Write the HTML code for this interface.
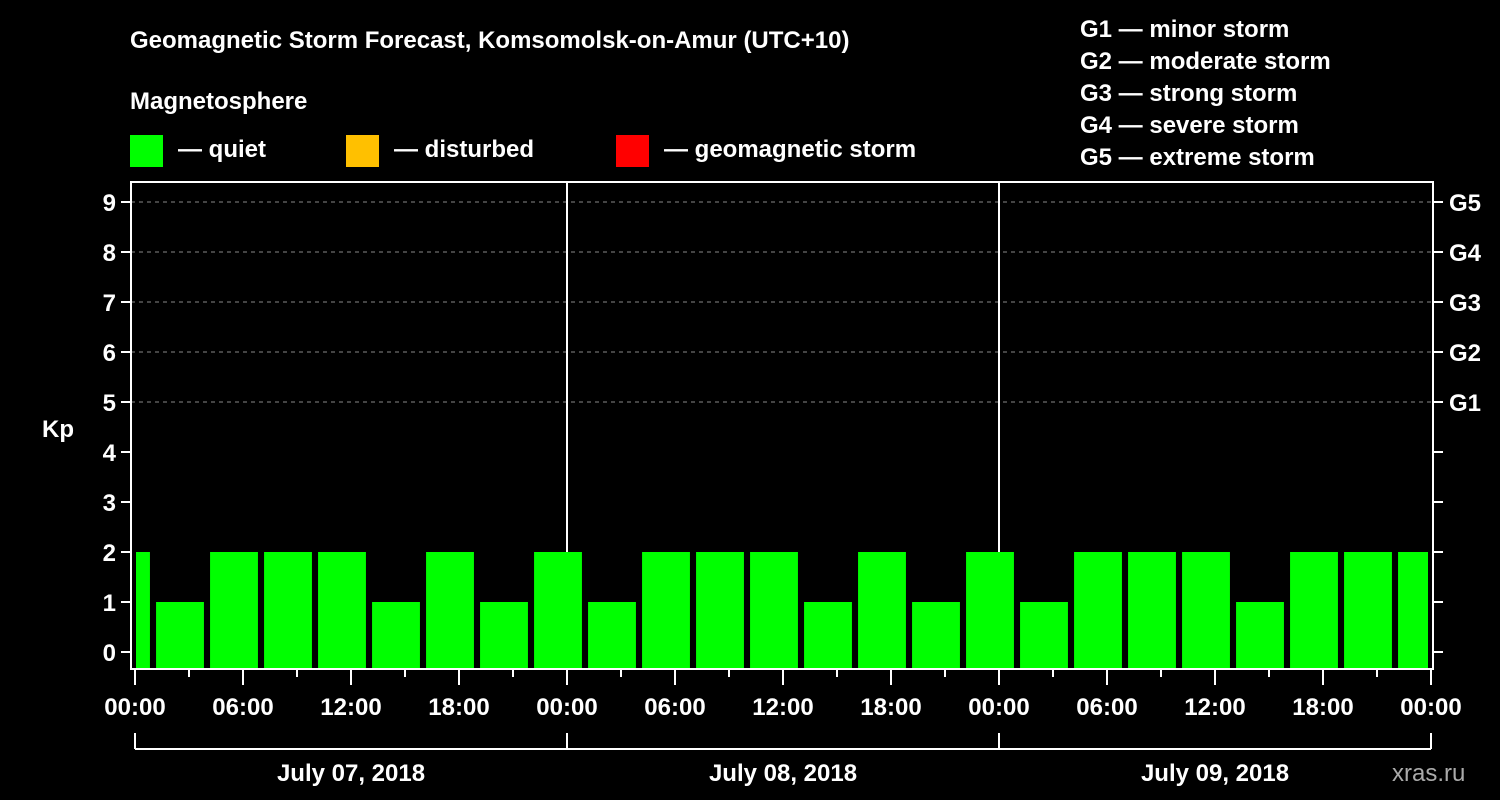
<!DOCTYPE html>
<html><head><meta charset="utf-8"><style>
html,body{margin:0;padding:0;background:#000;}
svg{display:block;font-family:"Liberation Sans",Arial,sans-serif;font-weight:bold;}
</style></head><body>
<svg id="chart" width="1500" height="800" viewBox="0 0 1500 800">
<rect width="1500" height="800" fill="#000"/>
<text x="130" y="48" fill="#fff" font-size="24">Geomagnetic Storm Forecast, Komsomolsk-on-Amur (UTC+10)</text>
<text x="130" y="109" fill="#fff" font-size="24">Magnetosphere</text>
<g><rect x="130" y="135" width="33" height="32" fill="#00ff00"/><text x="178" y="157" fill="#fff" font-size="24">— quiet</text></g>
<g><rect x="346" y="135" width="33" height="32" fill="#ffc000"/><text x="394" y="157" fill="#fff" font-size="24">— disturbed</text></g>
<g><rect x="616" y="135" width="33" height="32" fill="#ff0000"/><text x="664" y="157" fill="#fff" font-size="24">— geomagnetic storm</text></g>
<g fill="#fff" font-size="24">
<text x="1080" y="37">G1 — minor storm</text>
<text x="1080" y="69">G2 — moderate storm</text>
<text x="1080" y="101">G3 — strong storm</text>
<text x="1080" y="133">G4 — severe storm</text>
<text x="1080" y="165">G5 — extreme storm</text>
</g>
<text x="42" y="437" fill="#fff" font-size="24">Kp</text>
<text x="1392" y="781" fill="#aaa" font-size="24" font-weight="normal">xras.ru</text>
<g id="grid"></g><g id="bars"></g><g id="axes"></g>
</svg>
<script>
const kpValues = [2,1,2,2,2,1,2,1,2,1,2,2,2,1,2,1,2,1,2,2,2,1,2,2,2];
const barHours = kpValues.map((v,i)=>-0.5+3*i);
const yTicks = [0,1,2,3,4,5,6,7,8,9];
const gLabels = ['G1','G2','G3','G4','G5'];
const gLevels = [5,6,7,8,9];
const timeLabels = ['00:00','06:00','12:00','18:00','00:00','06:00','12:00','18:00','00:00','06:00','12:00','18:00','00:00'];
const dayLabels = ['July 07, 2018','July 08, 2018','July 09, 2018'];

const X0=135, PXH=18, Y0=652, PXK=50, L=131, R=1433, T=182, B=669;
const x = h => X0 + h*PXH;
const y = k => Y0 - k*PXK;
const NS='http://www.w3.org/2000/svg';
function mk(parent, tag, attrs, text){const e=document.createElementNS(NS,tag);for(const k in attrs)e.setAttribute(k,attrs[k]);if(text!==undefined)e.textContent=text;document.getElementById(parent).appendChild(e);return e;}

gLevels.forEach((k,i)=>{
  const l=mk('grid','line',{x1:L,x2:R,y1:y(k),y2:y(k),stroke:'#888','stroke-dasharray':'4,4','stroke-width':1});
  
  
});
[24,48].forEach(h=>{
  const l=mk('grid','line',{x1:x(h),x2:x(h),y1:T,y2:B,stroke:'#fff','stroke-width':2});
  
  
});
kpValues.forEach((v,i)=>{
  let a=x(barHours[i]-1.33), b=x(barHours[i]+1.33);
  a=Math.max(a,L+5); b=Math.min(b,R-5);
  const r=mk('bars','rect',{x:a,y:y(v),width:b-a,height:B-1-y(v),fill:'#00ff00'});
  
  
});
const fr=mk('axes','rect',{x:L,y:T,width:R-L,height:B-T,fill:'none',stroke:'#fff','stroke-width':2});


yTicks.forEach(k=>{
  mk('axes','line',{x1:L-10,x2:L,y1:y(k),y2:y(k),stroke:'#fff','stroke-width':2});
  mk('axes','line',{x1:R,x2:R+10,y1:y(k),y2:y(k),stroke:'#fff','stroke-width':2});
  const t=mk('axes','text',{x:L-15,y:y(k)+9,fill:'#fff','font-size':24,'text-anchor':'end'},String(k));
  
  
});
gLevels.forEach((k,i)=>{
  const t=mk('axes','text',{x:R+16,y:y(k)+9,fill:'#fff','font-size':24},gLabels[i]);
  
  
});
for(let h=0;h<=72;h+=3){
  mk('axes','line',{x1:x(h),x2:x(h),y1:B,y2:B+(h%6===0?16:8),stroke:'#fff','stroke-width':2});
}
timeLabels.forEach((s,i)=>{
  const t=mk('axes','text',{x:x(i*6),y:715,fill:'#fff','font-size':24,'text-anchor':'middle'},s);
  
  
});
mk('axes','line',{x1:x(0),x2:x(72),y1:749,y2:749,stroke:'#fff','stroke-width':2});
[0,24,48,72].forEach(h=>mk('axes','line',{x1:x(h),x2:x(h),y1:733,y2:749,stroke:'#fff','stroke-width':2}));
dayLabels.forEach((s,i)=>{
  const t=mk('axes','text',{x:x(i*24+12),y:781,fill:'#fff','font-size':24,'text-anchor':'middle'},s);
  
  
});
</script>
</body></html>
